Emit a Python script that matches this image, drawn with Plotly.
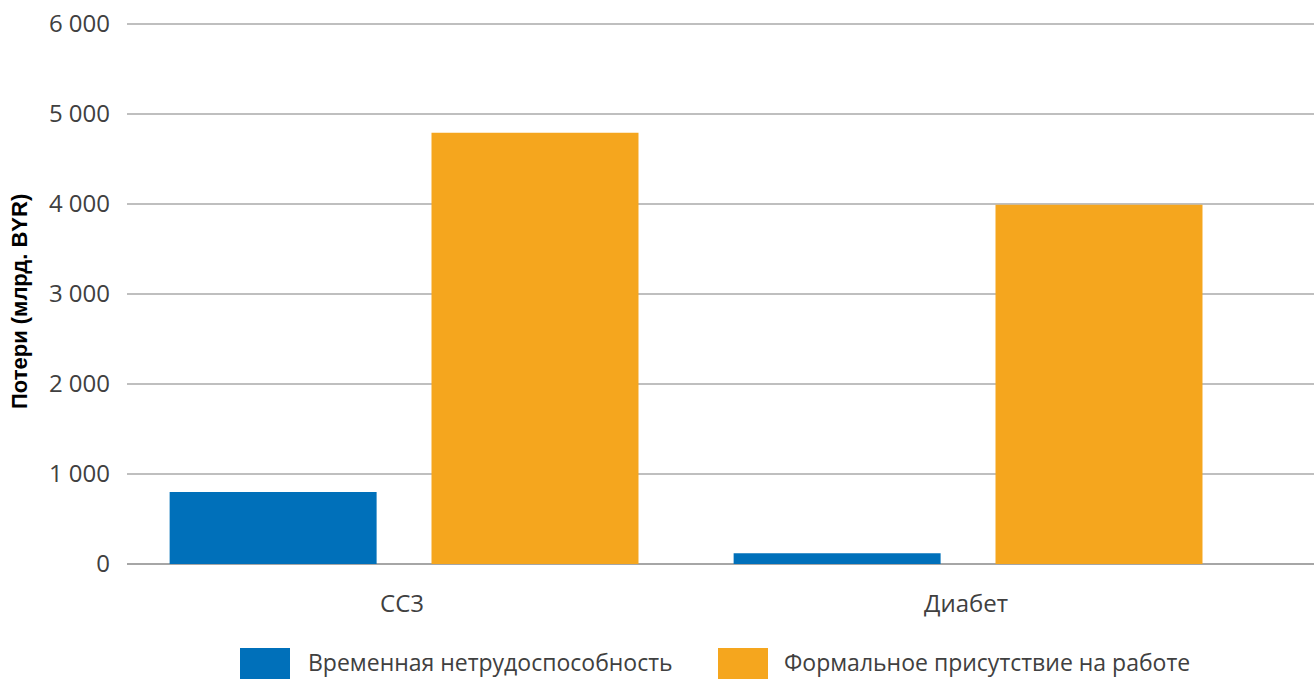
import plotly.graph_objects as go

# Categories and series
categories = ["CC3", "Диабет"]
series_names = ["Временная нетрудоспособность", "Формальное присутствие на работе"]
absence = [800, 120]
presenteeism = [4790, 3990]
series_values = [absence, presenteeism]
series_colors = ["#0070BA", "#F5A61E"]

y_ticks = [0, 1000, 2000, 3000, 4000, 5000, 6000]
y_tick_labels = ["0", "1 000", "2 000", "3 000", "4 000", "5 000", "6 000"]

W, H = 1314, 679
M_L, M_R, M_T, M_B = 127, 0, 20, 115
PLOT_W = W - M_L - M_R
PLOT_H = H - M_T - M_B
Y_MAX = 6041          # a little headroom so the 6 000 gridline is drawn
CAT_PX = 564          # pixels per category slot

FONT = "Open Sans, DejaVu Sans, sans-serif"
TEXT_COLOR = "#404040"

bar_width = 0.367
bar_offsets = [-0.412, 0.0523]

fig = go.Figure()
for name, vals, color, off in zip(series_names, series_values, series_colors, bar_offsets):
    fig.add_trace(go.Bar(
        x=categories, y=vals, name=name,
        marker=dict(color=color, line=dict(width=0)),
        width=bar_width, offset=off,
        showlegend=False,
    ))


def px_x(px):
    return (px - M_L) / PLOT_W


def px_y(py):
    return (H - M_B - py) / PLOT_H


# Legend built from rectangles and labels
legend_items = [(240, 307), (718, 783)]
for (sx, tx), name, color in zip(legend_items, series_names, series_colors):
    fig.add_shape(type="rect", xref="paper", yref="paper",
                  x0=px_x(sx), x1=px_x(sx + 50), y0=px_y(679), y1=px_y(648),
                  fillcolor=color, line=dict(width=0), layer="above")
    fig.add_annotation(xref="paper", yref="paper", x=px_x(tx), y=px_y(662),
                       text=name, showarrow=False, xanchor="left", yanchor="middle",
                       borderpad=0,
                       font=dict(family=FONT, size=23, color=TEXT_COLOR))

# Axis title
fig.add_annotation(xref="paper", yref="paper", x=px_x(20), y=px_y(302),
                   text="<b>Потери (млрд. BYR)</b>", textangle=-90, showarrow=False,
                   xanchor="center", yanchor="middle",
                   font=dict(family="Liberation Sans, Arial, sans-serif", size=22, color="#000000"))

x0 = (M_L - 402) / CAT_PX
fig.update_layout(
    width=W, height=H,
    margin=dict(l=M_L, r=M_R, t=M_T, b=M_B, autoexpand=False),
    paper_bgcolor="white", plot_bgcolor="white",
    barmode="group",
    font=dict(family=FONT, size=24, color=TEXT_COLOR),
    xaxis=dict(
        range=[x0, x0 + PLOT_W / CAT_PX],
        showgrid=False, zeroline=False, showline=False,
        ticks="", tickfont=dict(family=FONT, size=24, color=TEXT_COLOR),
        ticklabelstandoff=23,
    ),
    yaxis=dict(
        range=[0, Y_MAX],
        tickvals=y_ticks, ticktext=y_tick_labels,
        showgrid=True, gridcolor="#BFBFBF", gridwidth=1.5,
        zeroline=True, zerolinecolor="#A6A6A6", zerolinewidth=2,
        showline=False, ticks="",
        tickfont=dict(family=FONT, size=24, color=TEXT_COLOR),
        ticklabelstandoff=16,
    ),
)

fig.write_html("out.html")
